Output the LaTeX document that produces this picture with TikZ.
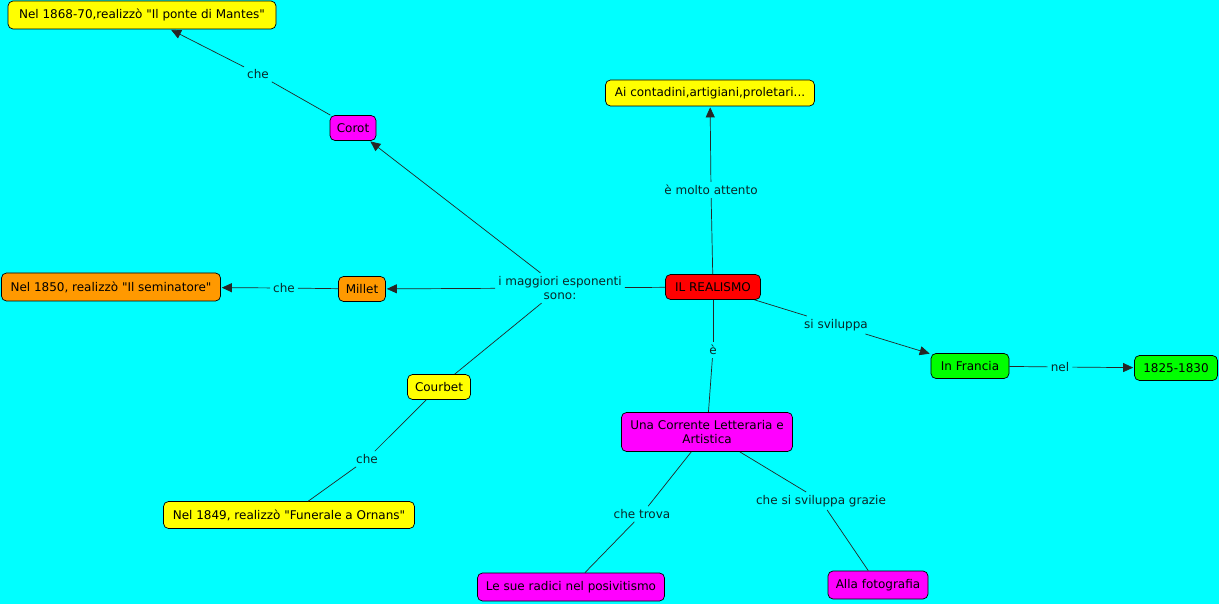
\documentclass[tikz,border=0pt]{standalone}
\usepackage{fontspec}
\setmainfont{DejaVu Sans}
\usetikzlibrary{arrows.meta}
\definecolor{bg}{RGB}{0,255,255}
\definecolor{cyel}{RGB}{255,255,0}
\definecolor{cmag}{RGB}{255,0,255}
\definecolor{cora}{RGB}{255,153,0}
\definecolor{cgrn}{RGB}{0,255,0}
\definecolor{cred}{RGB}{255,0,0}
\definecolor{ltxt}{RGB}{10,40,40}
\newcommand{\q}{\textquotedbl}
\tikzset{
  concept/.style={draw=black, line width=0.7pt, rounded corners=5pt, inner sep=0pt,
    font=\fontsize{12}{14.5}\selectfont, align=center, text=black},
  linkph/.style={fill=bg, inner sep=3pt, font=\fontsize{12}{14.5}\selectfont, align=center, text=ltxt},
  conn/.style={draw=black!85, line width=0.7pt},
  arr/.style={conn, -{Triangle[length=10pt,width=9pt]}, shorten >=1pt},
}
\begin{document}
\begin{tikzpicture}[x=1pt,y=-1pt]
\fill[bg] (0,0) rectangle (1219,604);
\useasboundingbox (0,0) rectangle (1219,604);

% concepts
\node[concept, fill=cyel, minimum width=268, minimum height=28] (n1868) at (142,15) {Nel 1868-70,realizzò \q Il ponte di Mantes\q};
\node[concept, fill=cmag, minimum width=46, minimum height=25] (corot) at (353,128) {Corot};
\node[concept, fill=cyel, minimum width=209, minimum height=26] (ai) at (710,93) {Ai contadini,artigiani,proletari...};
\node[concept, fill=cred, minimum width=95, minimum height=25] (real) at (713,287) {IL REALISMO};
\node[concept, fill=cora, minimum width=47, minimum height=25] (millet) at (362,289) {Millet};
\node[concept, fill=cora, minimum width=219, minimum height=28] (n1850) at (111,287) {Nel 1850, realizzò \q Il seminatore\q};
\node[concept, fill=cyel, minimum width=63, minimum height=25] (courbet) at (439,387) {Courbet};
\node[concept, fill=cyel, minimum width=251, minimum height=27] (n1849) at (289,515) {Nel 1849, realizzò \q Funerale a Ornans\q};
\node[concept, fill=cmag, minimum width=171, minimum height=39] (una) at (707,432) {Una Corrente Letteraria e\\Artistica};
\node[concept, fill=cgrn, minimum width=78, minimum height=25] (francia) at (970,366) {In Francia};
\node[concept, fill=cgrn, minimum width=83, minimum height=25] (anni) at (1176,368) {1825-1830};
\node[concept, fill=cmag, minimum width=187, minimum height=28] (radici) at (571,587) {Le sue radici nel posivitismo};
\node[concept, fill=cmag, minimum width=100, minimum height=28] (foto) at (878,585) {Alla fotografia};

% linking phrases
\node[linkph] (lche1) at (258,74) {che};
\node[linkph] (lmagg) at (560,288) {i maggiori esponenti\\sono:};
\node[linkph] (lche2) at (284,288) {che};
\node[linkph] (lche3) at (367,459) {che};
\node[linkph] (latt) at (711,190) {è molto attento};
\node[linkph] (lsvi) at (836,325) {si sviluppa};
\node[linkph] (lnel) at (1060,367) {nel};
\node[linkph] (le) at (713,350) {è};
\node[linkph] (ltrova) at (642,514) {che trova};
\node[linkph] (lgraz) at (821,501) {che si sviluppa grazie};

% connectors
\draw[conn] (corot) -- (lche1);
\draw[arr] (lche1) -- (n1868);
\draw[conn] (real) -- (lmagg);
\draw[arr] (lmagg) -- (corot);
\draw[arr] (lmagg) -- (millet);
\draw[conn] (lmagg) -- (courbet);
\draw[conn] (millet) -- (lche2);
\draw[arr] (lche2) -- (n1850);
\draw[conn] (courbet) -- (lche3);
\draw[conn] (lche3) -- (n1849);
\draw[conn] (real) -- (latt);
\draw[arr] (latt) -- (ai);
\draw[conn] (real) -- (lsvi);
\draw[arr] (lsvi) -- (francia);
\draw[conn] (francia) -- (lnel);
\draw[arr] (lnel) -- (anni);
\draw[conn] (real) -- (le);
\draw[conn] (le) -- (una);
\draw[conn] (una) -- (ltrova);
\draw[conn] (ltrova) -- (radici);
\draw[conn] (una) -- (lgraz);
\draw[conn] (lgraz) -- (foto);
\end{tikzpicture}
\end{document}
